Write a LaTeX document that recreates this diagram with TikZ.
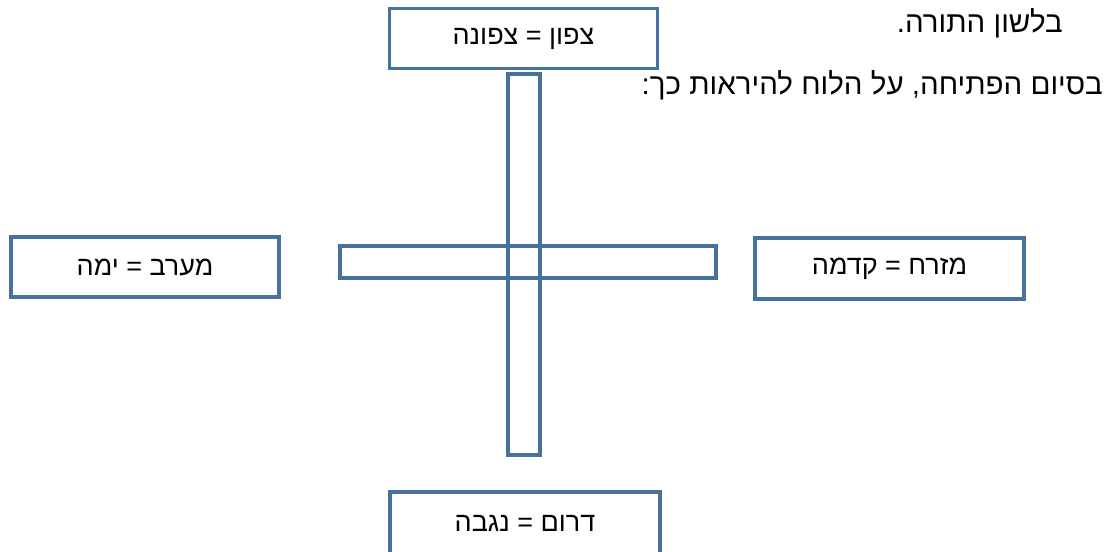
\documentclass[tikz,border=0pt]{standalone}
\usepackage{fontspec}
\setmainfont{Liberation Sans}
\newfontfamily\hebfont[Script=Hebrew]{Liberation Sans}
\TeXXeTstate=1
\definecolor{boxblue}{RGB}{70,114,160}
\begin{document}
\begin{tikzpicture}[x=1pt,y=-1pt,
  frame/.style={draw=boxblue,line width=3.2pt},
  label/.style={font=\hebfont\fontsize{27}{32}\selectfont,text=black,inner sep=0pt},
  toptext/.style={font=\hebfont\fontsize{29.5}{34}\selectfont,text=black,inner sep=0pt,anchor=east}]
\useasboundingbox (0,0) rectangle (1115,551);
% bars
\draw[frame] (508,74) rectangle (540,455);
\draw[frame] (340,246) rectangle (716,278);
% boxes
\node[frame,minimum width=268pt,minimum height=60pt,inner sep=0pt] (north) at (523.5,38.5) {};
\node[label] at (north.center) {\beginR צפון = צפונה\endR};
\node[frame,minimum width=268pt,minimum height=60pt,inner sep=0pt] (west) at (145,267) {};
\node[label] at (west.center) {\beginR מערב = ימה\endR};
\node[frame,minimum width=269pt,minimum height=61pt,inner sep=0pt] (east) at (889.5,268.5) {};
\node[label] at (east.center) {\beginR מזרח = קדמה\endR};
\node[frame,minimum width=270pt,minimum height=70pt,inner sep=0pt] (south) at (525,527) {};
\node[label] at (525,523) {\beginR דרום = נגבה\endR};
% top text
\node[toptext] (t1) at (1063,23) {\beginR בלשון התורה.\endR};
\node[toptext] (t2) at (1103,85) {\beginR בסיום הפתיחה, על הלוח להיראות כך:\endR};
\end{tikzpicture}
\end{document}
